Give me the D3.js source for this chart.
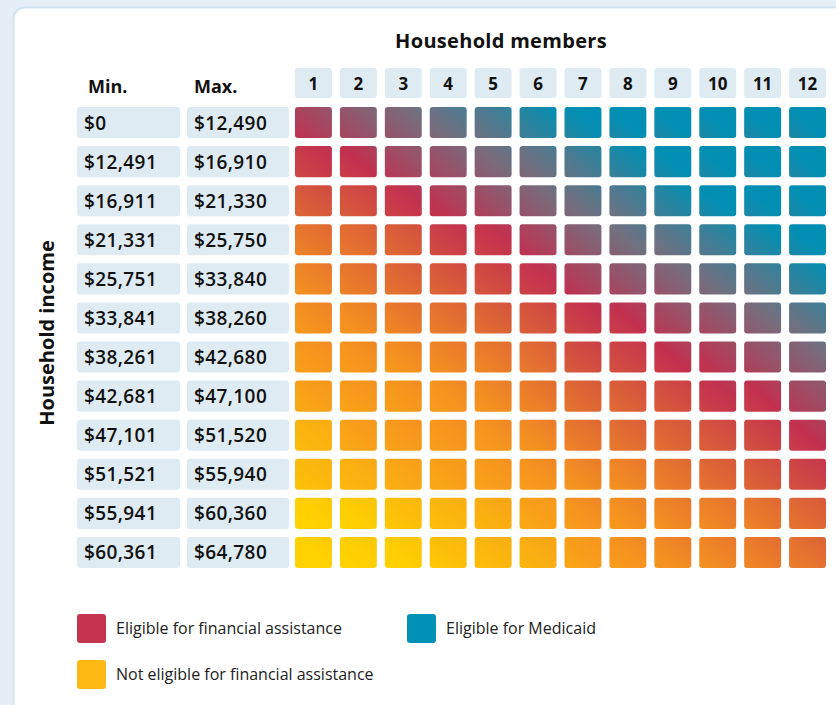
<!DOCTYPE html>
<html>
<head>
<meta charset="utf-8">
<script src="https://cdn.jsdelivr.net/npm/d3@7"></script>
<style>
body { margin: 0; background: #e5eef7; font-family: "Open Sans", "Lato", sans-serif; }
svg { display: block; }
</style>
</head>
<body>
<svg id="chart" width="836" height="705"></svg>
<script>
let sizes = ["1", "2", "3", "4", "5", "6", "7", "8", "9", "10", "11", "12"];
let minIncome = ["$0", "$12,491", "$16,911", "$21,331", "$25,751", "$33,841", "$38,261", "$42,681", "$47,101", "$51,521", "$55,941", "$60,361"];
let maxIncome = ["$12,490", "$16,910", "$21,330", "$25,750", "$33,840", "$38,260", "$42,680", "$47,100", "$51,520", "$55,940", "$60,360", "$64,780"];

// 0 = not eligible (yellow), 2 = financial assistance (red), 3 = Medicaid (teal)
let scores = [
	[2.15, 2.30, 2.40, 2.55, 2.65, 2.85, 2.97, 3.00, 3.00, 3.00, 3.00, 3.00],
	[1.90, 2.00, 2.20, 2.30, 2.45, 2.55, 2.70, 2.88, 3.00, 3.00, 3.00, 3.00],
	[1.60, 1.70, 1.95, 2.10, 2.25, 2.40, 2.55, 2.65, 2.85, 3.00, 3.00, 3.00],
	[1.30, 1.40, 1.55, 1.85, 1.95, 2.15, 2.35, 2.50, 2.60, 2.75, 2.90, 3.00],
	[1.15, 1.30, 1.45, 1.60, 1.75, 1.95, 2.15, 2.30, 2.40, 2.55, 2.65, 2.85],
	[1.05, 1.10, 1.25, 1.35, 1.50, 1.65, 1.90, 2.00, 2.20, 2.30, 2.45, 2.60],
	[0.95, 1.00, 1.05, 1.15, 1.25, 1.40, 1.70, 1.80, 2.00, 2.10, 2.25, 2.40],
	[0.80, 0.90, 0.95, 1.00, 1.10, 1.25, 1.45, 1.55, 1.70, 1.95, 2.00, 2.20],
	[0.50, 0.80, 0.90, 0.95, 1.00, 1.10, 1.30, 1.40, 1.50, 1.65, 1.80, 2.00],
	[0.40, 0.55, 0.70, 0.80, 0.90, 1.00, 1.10, 1.15, 1.30, 1.45, 1.60, 1.80],
	[0.05, 0.10, 0.30, 0.45, 0.60, 0.80, 1.00, 1.05, 1.15, 1.20, 1.30, 1.45],
	[0.00, 0.05, 0.10, 0.30, 0.45, 0.60, 0.85, 1.00, 1.10, 1.15, 1.25, 1.35]
];

let legendItems = [
	{label: "Eligible for financial assistance", colour: "#c4344f"},
	{label: "Eligible for Medicaid", colour: "#0091b5"},
	{label: "Not eligible for financial assistance", colour: "#fdb913"}
];

let svg = d3.select("#chart");

let colour = d3.scaleLinear()
	.domain([0, 1, 2, 2.5, 3])
	.range(["#ffd200", "#f6941f", "#c2304f", "#72707f", "#008fb3"])
	.clamp(true);

let scaleX = d3.scaleBand()
	.domain(sizes)
	.range([295, 826])
	.paddingInner(0.178);

let scaleY = d3.scaleBand()
	.domain(minIncome)
	.range([107, 568])
	.paddingInner(0.205);

// card
svg.append("rect")
	.attr("x", 13.5).attr("y", 7.5)
	.attr("width", 900).attr("height", 800)
	.attr("rx", 11)
	.attr("fill", "#fff")
	.attr("stroke", "#cfe4ef")
	.attr("stroke-width", 2);

svg.append("text")
	.attr("x", 501).attr("y", 48)
	.attr("text-anchor", "middle")
	.attr("font-size", 20).attr("font-weight", 700)
	.attr("letter-spacing", 0.3)
	.attr("fill", "#111")
	.text("Household members");

svg.append("text")
	.attr("transform", "translate(54,333) rotate(-90)")
	.attr("text-anchor", "middle")
	.attr("font-size", 20).attr("font-weight", 700)
	.attr("fill", "#111")
	.text("Household income");

// column headers
let heads = svg.append("g").selectAll("g")
	.data(sizes)
	.join("g")
	.attr("transform", d => "translate(" + scaleX(d) + ",68)");
heads.append("rect")
	.attr("width", scaleX.bandwidth()).attr("height", 30)
	.attr("rx", 3)
	.attr("fill", "#deebf3");
heads.append("text")
	.attr("x", scaleX.bandwidth() / 2).attr("y", 21.5)
	.attr("text-anchor", "middle")
	.attr("font-size", 17).attr("font-weight", 700)
	.attr("fill", "#111")
	.text(d => d);

svg.append("text").attr("x", 88).attr("y", 93)
	.attr("font-size", 18).attr("font-weight", 700).attr("fill", "#111").text("Min.");
svg.append("text").attr("x", 194).attr("y", 93)
	.attr("font-size", 18).attr("font-weight", 700).attr("fill", "#111").text("Max.");

// income label boxes
let incomeCols = [{x: 77, w: 103, values: minIncome}, {x: 187, w: 102, values: maxIncome}];
incomeCols.forEach(function(col){
	let g = svg.append("g").selectAll("g")
		.data(col.values)
		.join("g")
		.attr("transform", (d, i) => "translate(" + col.x + "," + scaleY(minIncome[i]) + ")");
	g.append("rect")
		.attr("width", col.w).attr("height", scaleY.bandwidth())
		.attr("rx", 3)
		.attr("fill", "#deebf3");
	g.append("text")
		.attr("x", 7).attr("y", scaleY.bandwidth() / 2 + 7)
		.attr("font-size", 19).attr("font-weight", 600)
		.attr("letter-spacing", 0.4)
		.attr("fill", "#111")
		.text(d => d);
});

// cells, each with its own diagonal gradient
let defs = svg.append("defs");
let spread = 0.14;
let offsets = [0, 0.25, 0.5, 0.75, 1];
let cells = [];
scores.forEach(function(row, r){
	row.forEach(function(s, c){
		cells.push({row: r, col: c, score: s, id: "g" + r + "_" + c});
	});
});

defs.selectAll("linearGradient")
	.data(cells)
	.join("linearGradient")
	.attr("id", d => d.id)
	.attr("x1", 0).attr("y1", 1)
	.attr("x2", 1).attr("y2", 0)
	.selectAll("stop")
	.data(d => offsets.map(o => ({o: o, s: d.score - spread + 2 * spread * o})))
	.join("stop")
	.attr("offset", d => d.o)
	.attr("stop-color", d => colour(d.s));

svg.append("g").selectAll("rect")
	.data(cells)
	.join("rect")
	.attr("x", d => scaleX(sizes[d.col]))
	.attr("y", d => scaleY(minIncome[d.row]))
	.attr("width", scaleX.bandwidth())
	.attr("height", scaleY.bandwidth())
	.attr("rx", 3)
	.attr("fill", d => "url(#" + d.id + ")");

// legend
let legendPos = [[77, 614], [407, 614], [77, 660]];
let leg = svg.append("g").selectAll("g")
	.data(legendItems)
	.join("g")
	.attr("transform", (d, i) => "translate(" + legendPos[i][0] + "," + legendPos[i][1] + ")");
leg.append("rect")
	.attr("width", 29).attr("height", 29)
	.attr("rx", 3)
	.attr("fill", d => d.colour);
leg.append("text")
	.attr("x", 39).attr("y", 20)
	.attr("font-size", 16).attr("font-weight", 400)
	.attr("fill", "#222")
	.text(d => d.label);
</script>
</body>
</html>
